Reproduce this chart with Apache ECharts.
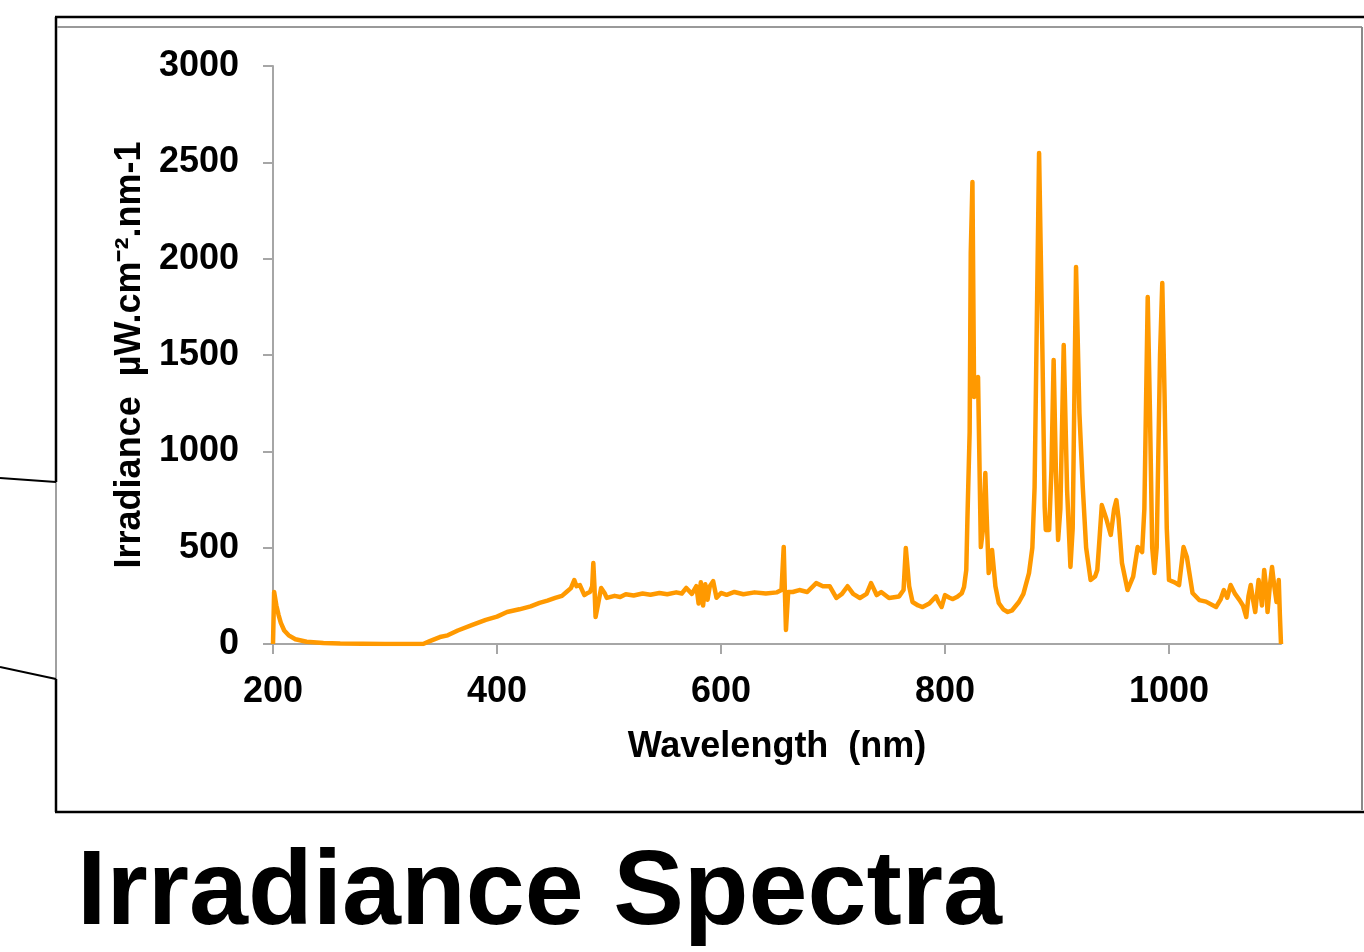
<!DOCTYPE html>
<html>
<head>
<meta charset="utf-8">
<script src="https://cdn.jsdelivr.net/npm/echarts@6/dist/echarts.min.js"></script>
<style>
html,body{margin:0;padding:0;background:#fff;}
#chart{width:1364px;height:952px;}
</style>
</head>
<body>
<div id="chart"></div>
<script>
// Wavelength (nm)
const wavelengths = [
  200, 201, 203, 205, 207, 210, 214, 220, 230, 245, 260, 300, 334, 340, 349, 356, 365, 378, 390, 400,
  409, 420, 430, 438, 445, 452, 458, 462, 466, 469, 471, 474, 478, 481, 483, 485, 486, 487, 488, 490,
  493, 496, 498, 505, 510, 515, 522, 530, 537, 545, 552, 560, 565, 569, 574, 578, 580, 582, 584, 586, 588, 590, 593, 596, 600,
  605, 612, 620, 630, 640, 650, 654, 656, 657, 658, 660, 664, 670, 677, 685, 691, 697, 703, 708, 713,
  718, 724, 730, 734, 739, 743, 750, 759, 763, 765, 768, 771, 776, 780, 786, 792, 794, 797, 800, 804,
  807, 811, 815, 817, 819, 820, 822, 823, 824.5, 826, 828, 829.5, 832, 834, 836, 837, 839, 841, 842, 845,
  848, 852, 856, 860, 866, 870, 875, 878, 880, 882, 884, 887, 889, 890, 893, 895, 897, 899, 901, 903,
  906, 909, 912, 914, 917, 920, 923, 926, 930, 934, 936, 938, 940, 944, 948, 951, 953, 955, 958, 963,
  968, 972, 976, 978, 981, 983, 985, 987, 989, 992, 994, 996, 998, 1000, 1005, 1009, 1013, 1016, 1021, 1027,
  1033, 1042, 1046, 1049, 1052, 1055, 1059, 1063, 1066, 1069, 1071, 1073, 1075, 1077, 1079, 1080, 1082, 1083, 1085, 1087,
  1088, 1090, 1092, 1094, 1096, 1097, 1098, 1099, 1100
];
// Irradiance (µW.cm-2.nm-1)
const irradiance = [
  0, 270, 200, 150, 110, 70, 45, 25, 12, 5, 2, 0, 0, 15, 36, 45, 70, 99, 125, 142,
  166, 180, 195, 213, 225, 239, 250, 270, 290, 332, 300, 306, 254, 265, 270, 300, 420, 300, 140, 200,
  291, 265, 239, 250, 244, 258, 252, 262, 256, 265, 258, 268, 262, 291, 260, 300, 210, 320, 200, 310, 230, 300, 326, 240, 265,
  255, 270, 258, 268, 262, 268, 280, 504, 280, 73, 270, 270, 280, 270, 316, 300, 300, 239, 260, 300,
  260, 239, 260, 316, 254, 270, 239, 247, 280, 498, 300, 218, 200, 192, 210, 247, 220, 192, 254, 240,
  233, 245, 264, 296, 384, 644, 1100, 2029, 2398, 1282, 1300, 1386, 503, 600, 887, 700, 368, 420, 488, 300,
  213, 180, 166, 175, 218, 260, 368, 500, 815, 1682, 2548, 1510, 711, 592, 592, 900, 1474, 900, 540, 700,
  1552, 800, 400, 600, 1957, 1200, 815, 500, 332, 350, 384, 550, 721, 650, 566, 700, 747, 650, 420, 280,
  350, 503, 477, 700, 1801, 1200, 500, 368, 500, 1500, 1874, 1300, 600, 332, 320, 306, 503, 450, 265, 228,
  220, 192, 230, 280, 240, 306, 260, 228, 200, 140, 250, 306, 230, 166, 280, 332, 250, 200, 384, 280,
  166, 300, 400, 300, 218, 250, 332, 150, 0
];
const xTicks = [200, 400, 600, 800, 1000];
const yTicks = [0, 500, 1000, 1500, 2000, 2500, 3000];

const FONT = '"Liberation Sans", Arial, sans-serif';
const AXIS_GRAY = '#a6a6a6';

const chart = echarts.init(document.getElementById('chart'), null, {renderer: 'canvas'});
const seriesData = wavelengths.map((w, i) => [w, irradiance[i]]);

chart.setOption({
  animation: false,
  backgroundColor: '#ffffff',
  grid: {left: 273, right: 83, top: 66, bottom: 308, containLabel: false},
  xAxis: {
    type: 'value',
    min: 200, max: 1100, interval: 200,
    name: 'Wavelength  (nm)',
    nameLocation: 'middle',
    nameGap: 85,
    nameTextStyle: {fontFamily: FONT, fontWeight: 'bold', fontSize: 36, color: '#000'},
    axisLine: {show: true, onZero: false, lineStyle: {color: AXIS_GRAY, width: 2}},
    axisTick: {show: true, length: 10, lineStyle: {color: AXIS_GRAY, width: 2}, customValues: xTicks},
    axisLabel: {fontFamily: FONT, fontWeight: 'bold', fontSize: 36, color: '#000', margin: 30,
                customValues: xTicks, formatter: v => String(v)},
    splitLine: {show: false}
  },
  yAxis: {
    type: 'value',
    min: 0, max: 3000, interval: 500,
    name: 'Irradiance  µW.cm⁻².nm-1',
    nameLocation: 'middle',
    nameGap: 125,
    nameTextStyle: {fontFamily: FONT, fontWeight: 'bold', fontSize: 36, color: '#000'},
    axisLine: {show: true, lineStyle: {color: AXIS_GRAY, width: 2}},
    axisTick: {show: true, length: 10, lineStyle: {color: AXIS_GRAY, width: 2}, customValues: yTicks},
    axisLabel: {fontFamily: FONT, fontWeight: 'bold', fontSize: 36, color: '#000', margin: 34,
                customValues: yTicks, formatter: v => String(v)},
    splitLine: {show: false}
  },
  series: [{
    type: 'line',
    data: seriesData,
    showSymbol: false,
    symbol: 'none',
    lineStyle: {color: '#ff9900', width: 4.5, join: 'round'},
    itemStyle: {color: '#ff9900'}
  }],
  graphic: [
    // outer black frame (top, left parts, bottom)
    {type: 'line', shape: {x1: 55, y1: 17, x2: 1364, y2: 17}, style: {stroke: '#000', lineWidth: 2.5}, silent: true},
    {type: 'line', shape: {x1: 56, y1: 17, x2: 56, y2: 482}, style: {stroke: '#000', lineWidth: 2.5}, silent: true},
    {type: 'line', shape: {x1: 56, y1: 482, x2: 56, y2: 679}, style: {stroke: '#a0a0a0', lineWidth: 2}, silent: true},
    {type: 'line', shape: {x1: 56, y1: 679, x2: 56, y2: 812}, style: {stroke: '#000', lineWidth: 2.5}, silent: true},
    {type: 'line', shape: {x1: 55, y1: 812, x2: 1364, y2: 812}, style: {stroke: '#000', lineWidth: 2.5}, silent: true},
    // inner gray frame
    {type: 'line', shape: {x1: 57, y1: 27, x2: 1362, y2: 27}, style: {stroke: '#9a9a9a', lineWidth: 2}, silent: true},
    {type: 'line', shape: {x1: 1362, y1: 27, x2: 1362, y2: 810}, style: {stroke: '#8a8a8a', lineWidth: 2}, silent: true},
    // callout lines
    {type: 'line', shape: {x1: 0, y1: 478, x2: 56, y2: 482}, style: {stroke: '#000', lineWidth: 2}, silent: true},
    {type: 'line', shape: {x1: 0, y1: 667, x2: 56, y2: 679}, style: {stroke: '#000', lineWidth: 2}, silent: true},
    // big title
    {type: 'text', left: 77, top: 842, silent: true,
     style: {text: 'Irradiance Spectra', font: 'bold 106px "Liberation Sans", Arial, sans-serif', fill: '#000'}}
  ]
});
</script>
</body>
</html>
